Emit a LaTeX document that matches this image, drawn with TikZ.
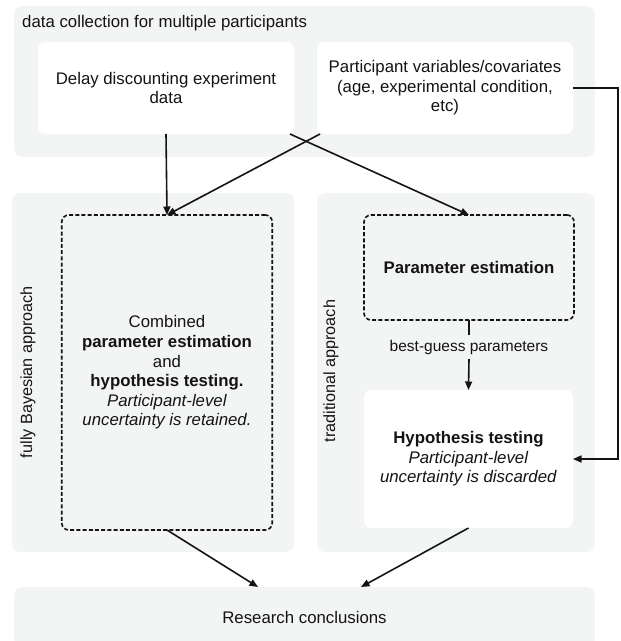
\documentclass[tikz,border=0pt]{standalone}
\usepackage{fontspec}
\setmainfont{Liberation Sans}
\usetikzlibrary{arrows.meta,calc}
\definecolor{grp}{RGB}{243,244,244}
\definecolor{ink}{RGB}{20,20,20}
\begin{document}
\begin{tikzpicture}[x=1pt,y=-1pt,
  font=\fontsize{16.8}{19.6}\selectfont,
  every node/.style={text=ink},
  group/.style={fill=grp, rounded corners=8pt, inner sep=0pt, outer sep=0pt},
  wbox/.style={fill=white, rounded corners=7pt, align=center, inner sep=0pt, outer sep=0pt},
  dbox/.style={draw=ink, dash pattern=on 4pt off 2.2pt, line width=1.6pt, rounded corners=7pt, align=center, inner sep=0pt, outer sep=0pt},
  arr/.style={draw=ink, line width=1.6pt, -{Triangle[length=8.5pt,width=7pt]}},
  ln/.style={draw=ink, line width=1.6pt},
  sidelabel/.style={rotate=90, font=\fontsize{16.2}{19}\selectfont}
]
\useasboundingbox (0,0) rectangle (621,641);
\clip (0,0) rectangle (621,641);

% groups
\node[group, minimum width=581pt, minimum height=151pt] (top) at (304.5,81.5) {};
\node[anchor=west, inner sep=0pt] (toptitle) at (22,23) {data collection for multiple participants};
\node[group, minimum width=282pt, minimum height=359pt] (bay) at (153,372.5) {};
\node[group, minimum width=278pt, minimum height=359pt] (trad) at (456,372.5) {};
\node[group, minimum width=581pt, minimum height=60pt] (rc) at (304.5,617) {Research conclusions};

% side labels
\node[sidelabel] (baylab) at (28,372) {fully Bayesian approach};
\node[sidelabel] (tradlab) at (331,371) {traditional approach};

% top boxes
\node[wbox, minimum width=256pt, minimum height=92pt] (dd) at (166,88)
  {Delay discounting experiment\\data};
\node[wbox, minimum width=256pt, minimum height=92pt] (pv) at (445,88)
  {Participant variables/covariates\\(age, experimental condition,\\etc)};

% middle boxes
\node[dbox, minimum width=210.5pt, minimum height=315pt] (comb) at (167,372.5)
  {Combined\\\textbf{parameter estimation}\\and\\\textbf{hypothesis testing.}\\\textit{Participant-level}\\\textit{uncertainty is retained.}};
\node[dbox, minimum width=210pt, minimum height=105pt] (pe) at (469,267.5)
  {\textbf{Parameter estimation}};
\node[wbox, minimum width=209pt, minimum height=138pt] (ht) at (468.5,459)
  {\textbf{Hypothesis testing}\\\textit{Participant-level}\\\textit{uncertainty is discarded}};
\node[font=\fontsize{15.5}{18}\selectfont, inner xsep=2pt, inner ysep=0pt, minimum height=24pt] (bg) at (469,347) {best-guess parameters};

% connectors
\draw[arr] (dd.south) -- (comb.north);
\draw[arr] ([xshift=-4pt]dd.south east) -- (pe.north);
\draw[arr] ([xshift=3pt]pv.south west) -- (comb.north);
\draw[arr] (pv.east) -- ++(45,0) |- (ht.east);
\draw[ln] (pe.south) -- (bg.north);
\draw[arr] (bg.south) -- (ht.north);
\draw[arr] (comb.south) -- ([xshift=-46.5pt]rc.north);
\draw[arr] (ht.south) -- ([xshift=56.5pt]rc.north);
\end{tikzpicture}
\end{document}
